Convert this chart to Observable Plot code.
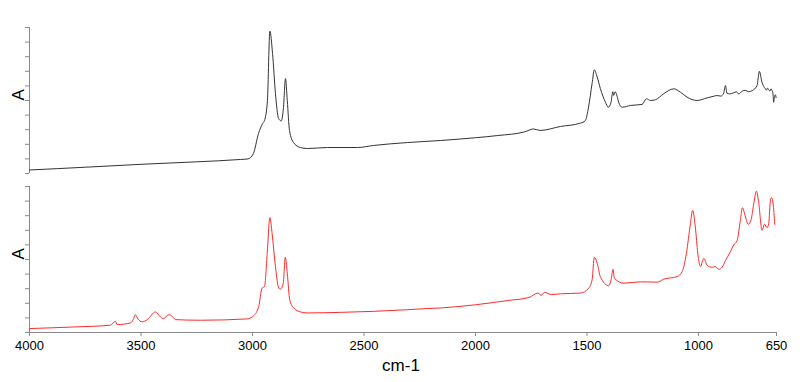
<!DOCTYPE html>
<html>
<head>
<meta charset="utf-8">
<script src="https://cdn.jsdelivr.net/npm/d3@7"></script>
<script src="https://cdn.jsdelivr.net/npm/@observablehq/plot@0.6"></script>
<style>
  html, body { margin: 0; padding: 0; background: #fff; }
  #chart { width: 800px; height: 382px; }
  svg { font-family: Arial, "Liberation Sans", sans-serif; }
</style>
</head>
<body>
<div id="chart"></div>
<script>
// Upper spectrum (black)
const topWn = [4000, 3750, 3500, 3250, 3054, 3020, 2996, 2973, 2955, 2946, 2933, 2922, 2910, 2897, 2883, 2871, 2861, 2852, 2844, 2834, 2816, 2785, 2753, 2664, 2529, 2457, 2305, 2157, 2000, 1900, 1780, 1740, 1710, 1619, 1529, 1507, 1493, 1477, 1467, 1454, 1440, 1417, 1404, 1392, 1384, 1380, 1374, 1365, 1358, 1342, 1305, 1253, 1233, 1215, 1193, 1156, 1111, 1081, 1051, 1006, 961, 930, 916, 900, 887, 879, 872, 860, 842, 830, 820, 804, 790, 775, 759, 737, 727, 715, 705, 700, 695, 690, 685, 680, 675, 670, 666, 663, 658, 655, 652];
const topAbs = [0.24, 0.43, 0.63, 0.8, 0.96, 1.0, 1.37, 2.74, 3.42, 3.63, 5.0, 9.75, 8.22, 5.48, 3.77, 3.6, 4.52, 6.5, 5.0, 2.95, 2.12, 1.78, 1.71, 1.78, 1.78, 1.92, 2.12, 2.26, 2.45, 2.6, 2.85, 3.05, 2.95, 3.22, 3.45, 3.63, 4.54, 6.16, 7.1, 6.6, 5.82, 4.88, 4.54, 4.88, 5.6, 5.35, 5.6, 5.3, 4.88, 4.54, 4.66, 4.73, 5.12, 5.0, 5.05, 5.46, 5.8, 5.57, 5.23, 5.0, 5.18, 5.3, 5.34, 5.3, 5.5, 6.03, 5.5, 5.45, 5.53, 5.6, 5.45, 5.64, 5.7, 5.6, 5.68, 6.03, 7.0, 6.25, 5.9, 5.8, 5.7, 5.85, 5.73, 5.65, 5.8, 5.68, 5.5, 4.88, 5.3, 5.39, 5.2];

// Lower spectrum (red)
const botWn = [4000, 3800, 3637, 3614, 3607, 3547, 3535, 3525, 3514, 3495, 3472, 3435, 3413, 3400, 3375, 3360, 3345, 3233, 3024, 2994, 2972, 2957, 2946, 2934, 2922, 2912, 2897, 2882, 2875, 2862, 2853, 2844, 2833, 2815, 2785, 2755, 2605, 2456, 2306, 2217, 2157, 2000, 1850, 1760, 1720, 1705, 1690, 1660, 1619, 1529, 1492, 1477, 1467, 1454, 1440, 1402, 1392, 1383, 1377, 1335, 1260, 1185, 1156, 1096, 1073, 1054, 1036, 1026, 1014, 1003, 991, 976, 961, 939, 924, 909, 894, 879, 857, 842, 827, 812, 803, 789, 777, 764, 752, 740, 730, 715, 704, 692, 685, 677, 672, 665, 658];
const botAbs = [0.27, 0.38, 0.5, 0.77, 0.54, 0.66, 0.88, 1.22, 0.93, 0.73, 0.88, 1.41, 1.07, 0.95, 1.22, 1.11, 0.88, 0.84, 0.93, 1.16, 1.79, 3.04, 3.15, 5.42, 7.87, 6.78, 4.51, 3.04, 2.97, 3.38, 5.15, 4.06, 2.24, 1.68, 1.41, 1.34, 1.38, 1.45, 1.56, 1.64, 1.68, 1.9, 2.2, 2.4, 2.7, 2.55, 2.75, 2.6, 2.65, 2.7, 3.04, 3.6, 5.15, 4.74, 3.83, 3.2, 3.6, 4.33, 3.72, 3.38, 3.47, 3.45, 3.65, 3.83, 4.17, 5.42, 7.46, 8.37, 7.23, 5.42, 4.52, 5.08, 4.6, 4.47, 4.51, 4.33, 4.47, 4.92, 5.53, 5.99, 6.28, 7.69, 8.55, 7.91, 7.41, 7.73, 8.82, 9.68, 8.93, 7.0, 7.41, 7.18, 7.46, 9.1, 9.23, 8.82, 7.41];

const xTicks = [4000, 3500, 3000, 2500, 2000, 1500, 1000, 650];
const yTicks = [0, 1, 2, 3, 4, 5, 6, 7, 8, 9, 10];
const panels = ["top", "bottom"];

const rows = [
  ...topWn.map((w, i) => ({panel: "top", wn: w, a: topAbs[i]})),
  ...botWn.map((w, i) => ({panel: "bottom", wn: w, a: botAbs[i]}))
];

const axisGray = "#8a8a8a";

const chart = Plot.plot({
  width: 800,
  height: 382,
  marginLeft: 29,
  marginRight: 24,
  marginTop: 27,
  marginBottom: 49,
  style: {fontFamily: "Arial, 'Liberation Sans', sans-serif", background: "#fff"},
  x: {domain: [4000, 650]},
  y: {domain: [0, 10]},
  fy: {domain: panels, paddingInner: 0.0815, paddingOuter: 0, axis: null},
  color: {domain: panels, range: ["#333333", "#ff2a2a"]},
  marks: [
    Plot.ruleX(panels.map(p => ({panel: p, x: 4000})), {x: "x", fy: "panel", stroke: axisGray}),
    Plot.ruleY([{panel: "bottom", y: 0}], {y: "y", fy: "panel", stroke: axisGray}),
    Plot.axisY({ticks: yTicks, tickSize: 4, tickFormat: () => "", stroke: axisGray, label: null}),
    Plot.axisX({ticks: xTicks, tickSize: 4, stroke: axisGray, tickPadding: 4, fontSize: 13, color: "#000", label: null, tickFormat: d => String(d)}),
    Plot.lineY(rows, {x: "wn", y: "a", fy: "panel", stroke: "panel", strokeWidth: 1, curve: "monotone-x"}),
    Plot.text(panels.map(p => ({panel: p})), {fy: "panel", frameAnchor: "left", dx: -11, rotate: -90, text: () => "A", fontSize: 17, fill: "#000"})
  ]
});

// x-axis title "cm-1"
const svg = d3.select(chart);
svg.append("text")
  .attr("x", 401).attr("y", 371)
  .attr("text-anchor", "middle")
  .attr("font-size", 17)
  .attr("fill", "#000")
  .text("cm-1");

document.getElementById("chart").appendChild(chart);
</script>
</body>
</html>
